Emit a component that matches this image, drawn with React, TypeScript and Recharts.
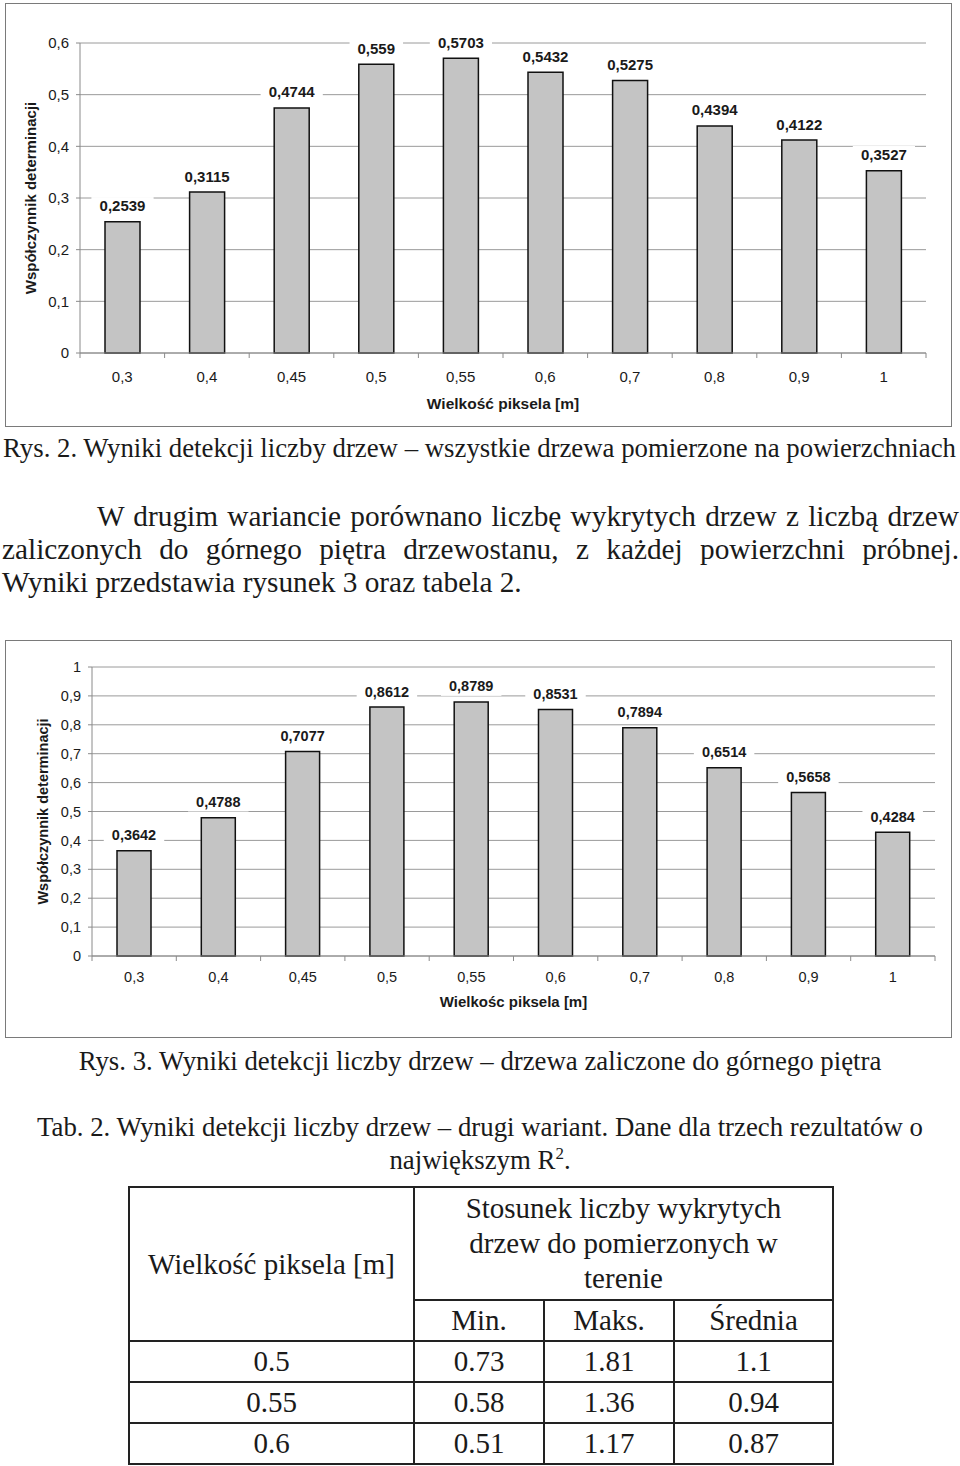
import React from 'react';
import { BarChart, Bar, XAxis, YAxis, CartesianGrid, LabelList } from 'recharts';

// ---------- data ----------
const pixelSizes = ['0,3', '0,4', '0,45', '0,5', '0,55', '0,6', '0,7', '0,8', '0,9', '1'];
const r2AllTrees = [0.2539, 0.3115, 0.4744, 0.559, 0.5703, 0.5432, 0.5275, 0.4394, 0.4122, 0.3527];
const r2UpperStorey = [0.3642, 0.4788, 0.7077, 0.8612, 0.8789, 0.8531, 0.7894, 0.6514, 0.5658, 0.4284];
const yTicks1 = [0, 0.1, 0.2, 0.3, 0.4, 0.5, 0.6];
const yTicks2 = [0, 0.1, 0.2, 0.3, 0.4, 0.5, 0.6, 0.7, 0.8, 0.9, 1];
const yTitle = 'Współczynnik determinacji';
const xTitle1 = 'Wielkość piksela [m]';
const xTitle2 = 'Wielkośc piksela [m]';

const tableSizes = ['0.5', '0.55', '0.6'];
const tableMin = ['0.73', '0.58', '0.51'];
const tableMax = ['1.81', '1.36', '1.17'];
const tableMean = ['1.1', '0.94', '0.87'];

const data1 = pixelSizes.map((p, i) => ({ p, v: r2AllTrees[i] }));
const data2 = pixelSizes.map((p, i) => ({ p, v: r2UpperStorey[i] }));

// ---------- styles ----------
const SANS = '"Liberation Sans", Arial, sans-serif';
const SERIF = '"Liberation Serif", "Times New Roman", serif';
const GRID = '#9a9a9a';
const AXIS = '#8a8a8a';
const BAR = '#c4c4c4';
const TXT = '#1a1a1a';

const fmt = (v: number | string) => String(v).replace('.', ',');

const makeValueLabel = (fontSize: number, gap: number) => (props: any) => {
  const { x, y, width, value } = props;
  const text = fmt(value);
  const cx = Number(x) + Number(width) / 2;
  const w = text.length * fontSize * 0.58 + 10;
  const baseline = Number(y) - gap;
  return (
    <g>
      <rect x={cx - w / 2} y={baseline - fontSize * 0.95} width={w} height={fontSize * 1.25} fill="#ffffff" />
      <text x={cx} y={baseline} textAnchor="middle" fontFamily={SANS} fontWeight="bold" fontSize={fontSize} fill={TXT}>
        {text}
      </text>
    </g>
  );
};

const makeXTick = (labelDy: number, fontSize: number) => (props: any) => {
  const { x, y, payload, index, visibleTicksCount } = props;
  const off = payload && typeof payload.offset === 'number' ? payload.offset : 0;
  const last = index === visibleTicksCount - 1;
  return (
    <g>
      <line x1={x - off} x2={x - off} y1={y} y2={y + 5} stroke={AXIS} strokeWidth={1} />
      {last && <line x1={x + off} x2={x + off} y1={y} y2={y + 5} stroke={AXIS} strokeWidth={1} />}
      <text x={x} y={y + labelDy} textAnchor="middle" fontFamily={SANS} fontSize={fontSize} fill={TXT}>
        {payload.value}
      </text>
    </g>
  );
};

const makeYTitle = (cxOffset: number, fontSize: number) => (props: any) => {
  const vb = props.viewBox || {};
  const cx = (vb.x || 0) + cxOffset;
  const cy = (vb.y || 0) + (vb.height || 0) / 2;
  return (
    <text
      x={cx}
      y={cy}
      transform={`rotate(-90, ${cx}, ${cy})`}
      textAnchor="middle"
      dominantBaseline="central"
      fontFamily={SANS}
      fontWeight="bold"
      fontSize={fontSize}
      fill={TXT}
    >
      {yTitle}
    </text>
  );
};

const makeXTitle = (title: string, dy: number, fontSize: number) => (props: any) => {
  const vb = props.viewBox || {};
  const cx = (vb.x || 0) + (vb.width || 0) / 2;
  return (
    <text x={cx} y={(vb.y || 0) + dy} textAnchor="middle" fontFamily={SANS} fontWeight="bold" fontSize={fontSize} fill={TXT}>
      {title}
    </text>
  );
};

const Frame = ({ left, top, width, height }: any) => (
  <div
    style={{
      position: 'absolute',
      left,
      top,
      width,
      height,
      border: '1.5px solid #7a7a7a',
      boxSizing: 'border-box',
      pointerEvents: 'none',
    }}
  />
);

const textBase: React.CSSProperties = {
  position: 'absolute',
  fontFamily: SERIF,
  color: TXT,
  whiteSpace: 'nowrap',
};

const cell: React.CSSProperties = {
  border: '2px solid #222',
  textAlign: 'center',
  verticalAlign: 'middle',
  padding: 0,
  fontFamily: SERIF,
  fontSize: 29,
  color: TXT,
};

export default function App() {
  return (
    <div style={{ position: 'absolute', left: 0, top: 0, width: 960, height: 1466, background: '#fff', overflow: 'hidden' }}>
      {/* Chart 1 */}
      <div style={{ position: 'absolute', left: 5, top: 3 }}>
        <BarChart width={947} height={424} data={data1} margin={{ top: 40, right: 26, bottom: 0, left: 0 }}>
          <CartesianGrid vertical={false} stroke={GRID} strokeWidth={1} />
          <XAxis
            dataKey="p"
            height={74}
            interval={0}
            tickSize={0}
            tickMargin={0}
            tickLine={false}
            axisLine={{ stroke: AXIS }}
            tick={makeXTick(29, 15)}
            label={makeXTitle(xTitle1, 56, 15.5)}
          />
          <YAxis
            width={75}
            domain={[0, 0.6]}
            ticks={yTicks1}
            interval={0}
            tickFormatter={fmt}
            tickSize={4}
            tickMargin={7}
            tickLine={{ stroke: AXIS }}
            axisLine={{ stroke: AXIS }}
            tick={{ fontFamily: SANS, fontSize: 15, fill: TXT }}
            label={makeYTitle(25, 15)}
          />
          <YAxis yAxisId="r" orientation="right" width={0} tick={false} tickLine={false} axisLine={{ stroke: GRID }} />
          <Bar dataKey="v" fill={BAR} stroke="#111" strokeWidth={1.5} barSize={35} isAnimationActive={false}>
            <LabelList dataKey="v" content={makeValueLabel(15, 10.5)} />
          </Bar>
        </BarChart>
      </div>
      <Frame left={5} top={3} width={947} height={424} />

      {/* Caption Rys. 2 */}
      <div style={{ ...textBase, left: 3, top: 433, fontSize: 26.8, lineHeight: '30px' }}>
        Rys. 2. Wyniki detekcji liczby drzew – wszystkie drzewa pomierzone na powierzchniach
      </div>

      {/* Paragraph */}
      <div style={{ position: 'absolute', left: 2, top: 500, width: 957, fontFamily: SERIF, fontSize: 29.3, lineHeight: '33px', color: TXT }}>
        <div style={{ textAlign: 'justify', textAlignLast: 'justify', paddingLeft: 95 }}>
          W drugim wariancie porównano liczbę wykrytych drzew z liczbą drzew
        </div>
        <div style={{ textAlign: 'justify', textAlignLast: 'justify' }}>
          zaliczonych do górnego piętra drzewostanu, z każdej powierzchni próbnej.
        </div>
        <div style={{ textAlign: 'left' }}>Wyniki przedstawia rysunek 3 oraz tabela 2.</div>
      </div>

      {/* Chart 2 */}
      <div style={{ position: 'absolute', left: 5, top: 640 }}>
        <BarChart width={947} height={398} data={data2} margin={{ top: 27, right: 17, bottom: 0, left: 0 }}>
          <CartesianGrid vertical={false} stroke={GRID} strokeWidth={1} />
          <XAxis
            dataKey="p"
            height={82}
            interval={0}
            tickSize={0}
            tickMargin={0}
            tickLine={false}
            axisLine={{ stroke: AXIS }}
            tick={makeXTick(26, 14.5)}
            label={makeXTitle(xTitle2, 51, 15)}
          />
          <YAxis
            width={87}
            domain={[0, 1]}
            ticks={yTicks2}
            interval={0}
            tickFormatter={fmt}
            tickSize={4}
            tickMargin={7}
            tickLine={{ stroke: AXIS }}
            axisLine={{ stroke: AXIS }}
            tick={{ fontFamily: SANS, fontSize: 14.5, fill: TXT }}
            label={makeYTitle(38, 14.5)}
          />
          <YAxis yAxisId="r" orientation="right" width={0} tick={false} tickLine={false} axisLine={{ stroke: GRID }} />
          <Bar dataKey="v" fill={BAR} stroke="#111" strokeWidth={1.5} barSize={34} isAnimationActive={false}>
            <LabelList dataKey="v" content={makeValueLabel(14.5, 10.5)} />
          </Bar>
        </BarChart>
      </div>
      <Frame left={5} top={640} width={947} height={398} />

      {/* Caption Rys. 3 */}
      <div style={{ ...textBase, left: 0, width: 960, textAlign: 'center', top: 1046, fontSize: 26.8, lineHeight: '30px' }}>
        Rys. 3. Wyniki detekcji liczby drzew – drzewa zaliczone do górnego piętra
      </div>

      {/* Caption Tab. 2 */}
      <div style={{ ...textBase, left: 0, width: 960, textAlign: 'center', top: 1111, fontSize: 26.8, lineHeight: '32.5px', whiteSpace: 'normal' }}>
        <div>Tab. 2. Wyniki detekcji liczby drzew – drugi wariant. Dane dla trzech rezultatów o</div>
        <div>
          największym R<sup style={{ fontSize: 17, verticalAlign: 'super', lineHeight: 0 }}>2</sup>.
        </div>
      </div>

      {/* Table */}
      <table
        style={{
          position: 'absolute',
          left: 128,
          top: 1186,
          width: 704,
          borderCollapse: 'collapse',
          tableLayout: 'fixed',
        }}
      >
        <colgroup>
          <col style={{ width: 285 }} />
          <col style={{ width: 130 }} />
          <col style={{ width: 130 }} />
          <col style={{ width: 159 }} />
        </colgroup>
        <tbody>
          <tr style={{ height: 113 }}>
            <td style={cell} rowSpan={2}>
              Wielkość piksela [m]
            </td>
            <td style={{ ...cell, lineHeight: '35px' }} colSpan={3}>
              Stosunek liczby wykrytych
              <br />
              drzew do pomierzonych w
              <br />
              terenie
            </td>
          </tr>
          <tr style={{ height: 41 }}>
            <td style={cell}>Min.</td>
            <td style={cell}>Maks.</td>
            <td style={cell}>Średnia</td>
          </tr>
          {tableSizes.map((s, i) => (
            <tr key={s} style={{ height: 41 }}>
              <td style={cell}>{s}</td>
              <td style={cell}>{tableMin[i]}</td>
              <td style={cell}>{tableMax[i]}</td>
              <td style={cell}>{tableMean[i]}</td>
            </tr>
          ))}
        </tbody>
      </table>
    </div>
  );
}
